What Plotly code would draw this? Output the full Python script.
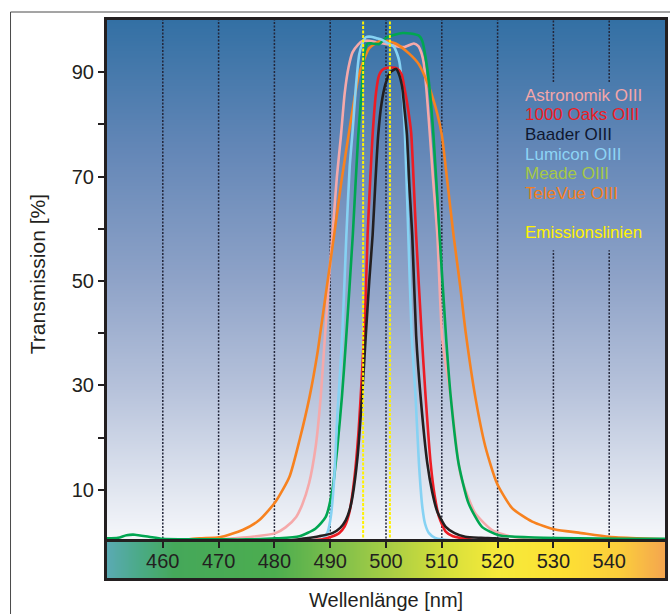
import numpy as np
import plotly.graph_objects as go

# ---------------- data ----------------
wavelength_ticks = [460, 470, 480, 490, 500, 510, 520, 530, 540]
transmission_ticks = [10, 20, 30, 40, 50, 60, 70, 80, 90]
transmission_labels = ["10", "", "30", "", "50", "", "70", "", "90"]
emission_lines = [495.9, 500.7]

astronomik_wl = [468, 472.6, 476, 480.2, 482, 483.9, 485, 486.2, 487.4, 488.3, 489.0, 489.9, 490.4,
                 491.2, 491.9, 492.6, 493.3, 494.0, 495.0, 495.8, 497, 499, 501, 503.2, 505.0, 505.8,
                 506.4, 506.8, 507.3, 507.9, 508.4, 509.2, 510.1, 511.6, 513.0, 513.6, 516.0, 519.0,
                 522.6, 526, 530]
astronomik_t = [0.3, 0.7, 1.0, 1.7, 2.8, 4.8, 7.2, 11.2, 18.3, 27.8, 38.5, 52.0, 58.8,
                70, 77.5, 86, 91, 93.8, 95.3, 96.0, 96.0, 95.6, 95.2, 94.8, 95.5, 95.0,
                93.5, 91.5, 86, 77.5, 70, 58.8, 38.7, 27.8, 15.1, 11.9, 5.5, 2.3,
                1.0, 0.6, 0.4]

oaks_wl = [484, 486.5, 488.6, 490.2, 491.6, 492.6, 493.4, 494.3, 495.1, 495.8, 496.3, 496.7, 497.2,
           497.6, 498.2, 498.75, 499.3, 500.0, 500.8, 502.0, 502.8, 503.3, 503.8, 504.5, 505.0,
           505.4, 506.4, 507.1, 508.0, 508.7, 509.5, 510.7, 512, 513.7, 516]
oaks_t = [0.1, 0.3, 0.5, 1.0, 1.7, 3.0, 5.5, 11.9, 21.5, 34.2, 45, 58.8, 70,
          78, 86, 89.4, 90.4, 90.8, 90.9, 90.7, 89.6, 87, 84, 78.5, 68,
          58.8, 39.6, 27.8, 15.1, 9, 4.8, 2.0, 1.1, 0.7, 0.3]

baader_wl = [482, 485.7, 488, 490.4, 491.8, 492.8, 493.5, 494.0, 494.9, 495.7, 496.4, 497.0, 497.6,
             498.1, 498.6, 499.2, 499.9, 500.8, 501.8, 502.3, 502.9, 503.3, 503.75, 504.2, 504.7,
             505.4, 506.2, 507.4, 508.3, 509.2, 510.7, 512.3, 514.2, 517, 519.6, 522]
baader_t = [0.2, 0.7, 1.1, 1.7, 2.7, 4.2, 6.2, 8.7, 16.3, 27.8, 40.0, 50, 58.8,
            69, 78, 84, 87.7, 90.0, 90.6, 89.7, 87.1, 83, 78, 68, 58.8,
            39.6, 27.8, 15.1, 9.5, 5.8, 2.9, 1.7, 1.0, 0.8, 0.7, 0.5]

lumicon_wl = [487.5, 488.6, 489.5, 490.1, 490.7, 491.3, 491.8, 492.2, 492.9, 493.5, 494.0, 494.6,
              495.2, 495.8, 496.4, 497.3, 498.3, 499.3, 500.4, 501.4, 502.0, 502.4, 502.9, 503.4,
              504.0, 504.6, 505.3, 505.9, 506.5, 507.0, 507.7, 508.8, 510.1, 512]
lumicon_t = [0.2, 0.5, 1.8, 4.8, 11.9, 24.7, 33, 40.6, 58.8, 72, 78.5, 87.2,
             93.4, 95.6, 96.7, 96.8, 96.5, 96.2, 95.5, 94.9, 93.5, 92, 87.2, 78,
             58.8, 39.6, 27.8, 15.1, 6.8, 3.5, 1.7, 0.8, 0.5, 0.3]

meade_wl = [450, 452, 453.5, 455, 457.5, 460, 465, 470, 475, 480.3, 484.5, 487.4, 489.2, 490.4,
            491.3, 492.1, 492.8, 494.05, 495.0, 495.7, 496.1, 496.7, 497.5, 498.8, 499.9, 501.7,
            503.0, 504.4, 505.9, 506.5, 507.1, 507.8, 508.5, 509.6, 510.8, 511.6, 513.0, 514.8,
            517.2, 520.2, 525.5, 534.5, 542, 550]
meade_t = [0.7, 0.8, 1.3, 1.4, 1.0, 0.6, 0.5, 0.5, 0.5, 0.7, 1.1, 2.6, 4.8, 10,
           18.3, 27.8, 38.1, 58.8, 77.5, 87.2, 93.5, 95.5, 95.5, 95.4, 96.5, 97.2,
           97.5, 97.4, 97.0, 96.0, 92.8, 87, 78, 58.8, 38.7, 27.8, 15.1, 7.4,
           2.9, 1.3, 0.9, 0.7, 0.6, 0.6]

televue_wl = [461, 463.5, 466.6, 470.2, 474.3, 477.3, 480.2, 482.7, 484.5, 486.3, 487.7, 488.3,
              489.9, 490.7, 492.0, 493.3, 494.2, 495.2, 497.0, 499.3, 501.7, 504.1, 505.9, 507.7,
              509.2, 510.0, 511.0, 512.1, 513.3, 514.3, 516.0, 517.8, 519.9, 522.6, 526.2, 530.3,
              534.5, 540, 545, 550]
televue_t = [0.2, 0.4, 0.7, 0.9, 2.3, 4.2, 7.7, 12.5, 19.5, 27.8, 36.1, 40.6,
             52.7, 58.8, 69, 78, 84, 89.7, 94.6, 96.1, 95.5, 93.6, 91.5, 87.2,
             82, 78, 69, 58.8, 49, 40, 27.8, 18.3, 11.2, 6.5, 3.9, 2.4,
             1.8, 1.0, 0.7, 0.5]

legend_labels = ["Astronomik OIII", "1000 Oaks OIII", "Baader OIII", "Lumicon OIII",
                 "Meade OIII", "TeleVue OIII"]
emission_label = "Emissionslinien"

# ---------------- styles ----------------
FONT = "Liberation Sans, Arial, Helvetica, sans-serif"
INK = "#231f20"
curve_colors = {
    "Astronomik OIII": "#f5a9aa",
    "1000 Oaks OIII": "#ed1c24",
    "Baader OIII": "#231f20",
    "Lumicon OIII": "#86d2f3",
    "Meade OIII": "#00a651",
    "TeleVue OIII": "#f7821f",
}
label_colors = {
    "Astronomik OIII": "#f4a6a8",
    "1000 Oaks OIII": "#ed1c24",
    "Baader OIII": "#0f1830",
    "Lumicon OIII": "#8dd4f5",
    "Meade OIII": "#a6c846",
    "TeleVue OIII": "#f47f20",
}
YELLOW = "#fff200"

series = {
    "Astronomik OIII": (astronomik_wl, astronomik_t),
    "TeleVue OIII": (televue_wl, televue_t),
    "Meade OIII": (meade_wl, meade_t),
    "Lumicon OIII": (lumicon_wl, lumicon_t),
    "1000 Oaks OIII": (oaks_wl, oaks_t),
    "Baader OIII": (baader_wl, baader_t),
}

X_MIN, X_MAX = 450, 550
Y_MIN, Y_MAX = 0, 100
BAR_FRAC = 36 / 558

fig = go.Figure()

# background gradient of the plot area
bg_levels = np.linspace(Y_MIN, Y_MAX, 101)
fig.add_trace(go.Heatmap(
    x=[X_MIN, X_MAX], y=bg_levels, z=[[v, v] for v in bg_levels],
    colorscale=[[0.0, "#f7f8fb"], [0.1, "#e1e6f0"], [0.3, "#b5c1da"], [0.5, "#8fa3c8"],
                [0.75, "#6487b7"], [1.0, "#3370a4"]],
    showscale=False, zsmooth="best", hoverinfo="skip", xaxis="x", yaxis="y"))

# spectrum colour bar
spec_x = np.linspace(X_MIN, X_MAX, 201)
fig.add_trace(go.Heatmap(
    x=spec_x, y=[0, 1], z=[spec_x, spec_x],
    colorscale=[[0.0, "#5aaab2"], [0.06, "#4aaa85"], [0.12, "#45a85a"], [0.3, "#4cad4f"],
                [0.4, "#79bd4b"], [0.5, "#a6cd45"], [0.6, "#d3de3b"], [0.7, "#f6ea3a"],
                [0.82, "#fde034"], [0.92, "#fbcd3c"], [1.0, "#f4a54f"]],
    zmin=X_MIN, zmax=X_MAX, showscale=False, zsmooth="best", hoverinfo="skip",
    xaxis="x2", yaxis="y2"))

# dotted vertical grid lines (interrupted behind the label block at the right)
gap_lo, gap_hi = 55.9, 88.1
gx, gy = [], []
for t in wavelength_ticks:
    if t >= 525:
        gx += [t, t, None, t, t, None]
        gy += [Y_MIN, gap_lo, None, gap_hi, Y_MAX, None]
    else:
        gx += [t, t, None]
        gy += [Y_MIN, Y_MAX, None]
fig.add_trace(go.Scatter(x=gx, y=gy, mode="lines",
                         line=dict(color="#23263a", width=1.5, dash="2px,1.5px"),
                         hoverinfo="skip", showlegend=False))

# filter curves
for name, (wl, tr) in series.items():
    fig.add_trace(go.Scatter(x=wl, y=tr, mode="lines", name=name,
                             line=dict(color=curve_colors[name], width=2.6,
                                       shape="spline", smoothing=0.6),
                             showlegend=False))

# emission lines
ex, ey = [], []
for e in emission_lines:
    ex += [e, e, None]
    ey += [Y_MIN, Y_MAX, None]
fig.add_trace(go.Scatter(x=ex, y=ey, mode="lines",
                         line=dict(color=YELLOW, width=2, dash="3px,1.5px"),
                         hoverinfo="skip", showlegend=False))

# text legend
annotations = []
leg_x = 524.6
leg_top = 85.6
leg_step = 3.76
for i, lab in enumerate(legend_labels):
    annotations.append(dict(x=leg_x, y=leg_top - i * leg_step, xref="x", yref="y",
                            text=lab, showarrow=False, xanchor="left", yanchor="middle",
                            font=dict(family=FONT, size=17, color=label_colors[lab])))
annotations.append(dict(x=leg_x, y=leg_top - 7 * leg_step, xref="x", yref="y",
                        text=emission_label, showarrow=False, xanchor="left", yanchor="middle",
                        font=dict(family=FONT, size=17, color=YELLOW)))

# axis titles
annotations.append(dict(x=0.5, y=-0.040, xref="paper", yref="paper", text="Wellenlänge [nm]",
                        showarrow=False, xanchor="center", yanchor="middle",
                        font=dict(family=FONT, size=20, color=INK)))
annotations.append(dict(x=-0.123, y=0.545, xref="paper", yref="paper", text="Transmission [%]",
                        showarrow=False, xanchor="center", yanchor="middle", textangle=-90,
                        font=dict(family=FONT, size=21, color=INK)))

axis_common = dict(showline=True, mirror=True, linewidth=3, linecolor=INK,
                   showgrid=False, zeroline=False)

fig.update_layout(
    width=670, height=614,
    margin=dict(l=107, r=2, t=20, b=36),
    paper_bgcolor="white", plot_bgcolor="white",
    font=dict(family=FONT, color=INK),
    showlegend=False,
    annotations=annotations,
    xaxis=dict(domain=[0, 1], range=[X_MIN, X_MAX], anchor="y", showticklabels=False,
               ticks="", **axis_common),
    yaxis=dict(domain=[BAR_FRAC, 1], range=[Y_MIN, Y_MAX], anchor="x",
               tickvals=transmission_ticks, ticktext=transmission_labels,
               ticks="outside", ticklen=6, tickwidth=2, tickcolor=INK,
               tickfont=dict(family=FONT, size=20, color=INK), **axis_common),
    xaxis2=dict(domain=[0, 1], range=[X_MIN, X_MAX], anchor="y2", side="top",
                tickvals=wavelength_ticks, ticks="inside", ticklen=6, tickwidth=2,
                tickcolor=INK, ticklabelposition="inside", ticklabelstandoff=7,
                tickfont=dict(family=FONT, size=20, color=INK), **axis_common),
    yaxis2=dict(domain=[0, BAR_FRAC], range=[0, 1], anchor="x2", showticklabels=False,
                ticks="", **axis_common),
    shapes=[dict(type="rect", xref="paper", yref="paper",
                 x0=(10 - 107) / 561, x1=(674 - 107) / 561,
                 y0=(578 - 618) / 558, y1=(578 - 12) / 558,
                 line=dict(color="#4a4a4a", width=1), fillcolor="rgba(0,0,0,0)",
                 layer="below")],
)

fig.write_html("out.html", config={"displayModeBar": False},
               post_script="document.body.style.margin='0';document.body.style.overflow='hidden';")
